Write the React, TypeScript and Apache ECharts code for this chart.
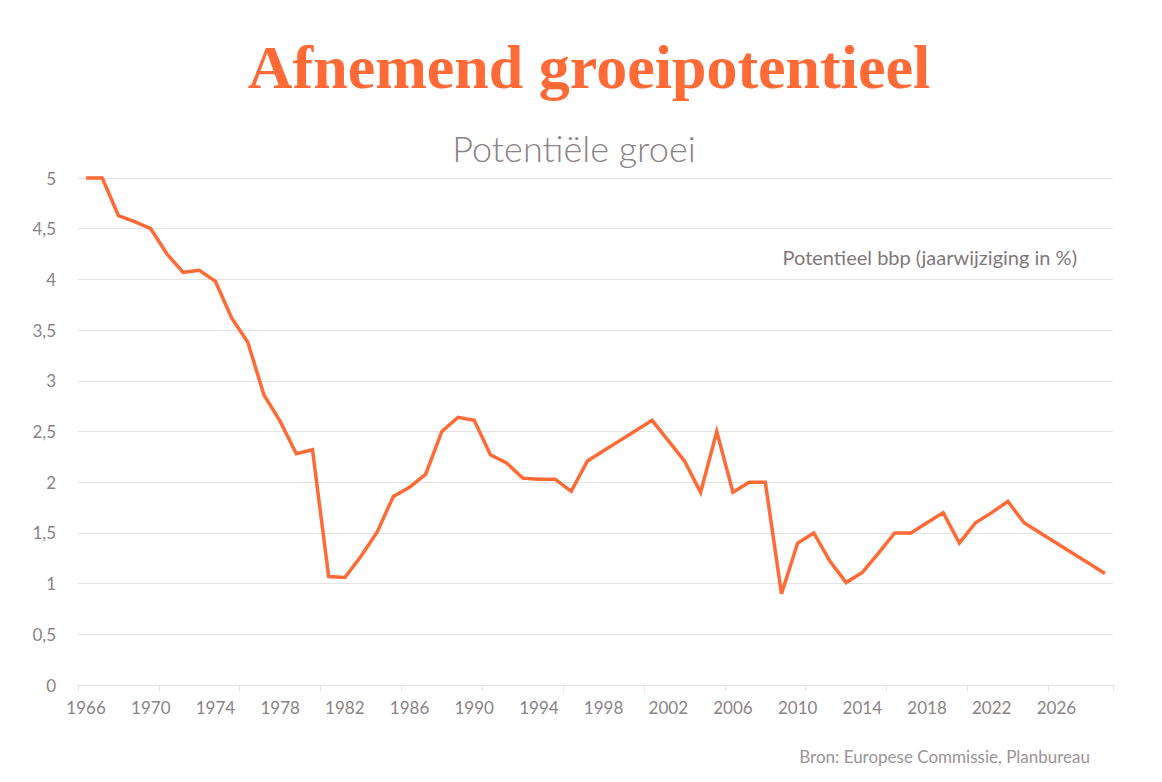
import React, { useEffect, useRef } from "react";
import * as echarts from "echarts";

const years: string[] = [];
for (let y = 1966; y <= 2029; y++) years.push(String(y));

const growth: number[] = [
  5.0, 5.0, 4.63, 4.57, 4.5, 4.25, 4.07, 4.09, 3.98, 3.62,
  3.38, 2.86, 2.6, 2.28, 2.32, 1.07, 1.06, 1.27, 1.51, 1.86,
  1.95, 2.08, 2.5, 2.64, 2.61, 2.27, 2.19, 2.04, 2.03, 2.03,
  1.91, 2.21, 2.31, 2.41, 2.51, 2.61, 2.41, 2.21, 1.9, 2.5,
  1.9, 2.0, 2.0, 0.9, 1.4, 1.5, 1.22, 1.01, 1.11, 1.3,
  1.5, 1.5, 1.6, 1.7, 1.4, 1.6, 1.7, 1.81, 1.6, 1.5,
  1.4, 1.3, 1.2, 1.1,
];

const title = "Afnemend groeipotentieel";
const subtitle = "Potentiële groei";
const seriesLabel = "Potentieel bbp (jaarwijziging in %)";
const source = "Bron: Europese Commissie, Planbureau";

const ORANGE = "#ff6a37";
const GREY_TEXT = "#8a8386";
const GRID = "#e3e3e3";

export default function App() {
  const ref = useRef<HTMLDivElement>(null);
  useEffect(() => {
    document.body.style.margin = "0";
    const chart = echarts.init(ref.current!, null, { renderer: "svg" });
    chart.setOption({
      animation: false,
      backgroundColor: "#ffffff",
      textStyle: { fontFamily: "Lato" },
      graphic: [
        {
          type: "text",
          x: 589,
          y: 67,
          style: {
            text: title,
            font: "bold 62px 'Liberation Serif'",
            fill: ORANGE,
            align: "center",
            verticalAlign: "middle",
          },
        },
        {
          type: "text",
          x: 574,
          y: 148,
          style: {
            text: subtitle,
            font: "300 36px Lato",
            fill: GREY_TEXT,
            align: "center",
            verticalAlign: "middle",
          },
        },
        {
          type: "text",
          x: 1077,
          y: 257,
          style: {
            text: seriesLabel,
            font: "20px Lato",
            fill: "#7f787b",
            align: "right",
            verticalAlign: "middle",
          },
        },
        {
          type: "text",
          x: 1090,
          y: 756,
          style: {
            text: source,
            font: "17px Lato",
            fill: "#9a9497",
            align: "right",
            verticalAlign: "middle",
          },
        },
      ],
      grid: { left: 78, right: 49, top: 178, bottom: 97, containLabel: false },
      xAxis: {
        type: "category",
        data: years,
        boundaryGap: true,
        axisLine: { show: true, lineStyle: { color: GRID, width: 1 } },
        axisTick: { show: true, interval: 4, alignWithLabel: false, length: 6, lineStyle: { color: GRID } },
        axisLabel: { interval: 3, color: GREY_TEXT, fontSize: 17, margin: 14, fontFamily: "Lato" },
        splitLine: { show: false },
      },
      yAxis: {
        type: "value",
        min: 0,
        max: 5,
        interval: 0.5,
        axisLine: { show: false },
        axisTick: { show: false },
        axisLabel: {
          color: GREY_TEXT,
          fontSize: 17,
          margin: 22,
          fontFamily: "Lato",
          formatter: (v: number) => String(v).replace(".", ","),
        },
        splitLine: { show: true, lineStyle: { color: GRID, width: 1 } },
      },
      series: [
        {
          type: "line",
          data: growth,
          showSymbol: false,
          symbol: "none",
          lineStyle: { color: ORANGE, width: 3.5, join: "miter" },
          clip: false,
        },
      ],
    });
    return () => chart.dispose();
  }, []);
  return <div ref={ref} style={{ width: 1162, height: 782 }} />;
}
